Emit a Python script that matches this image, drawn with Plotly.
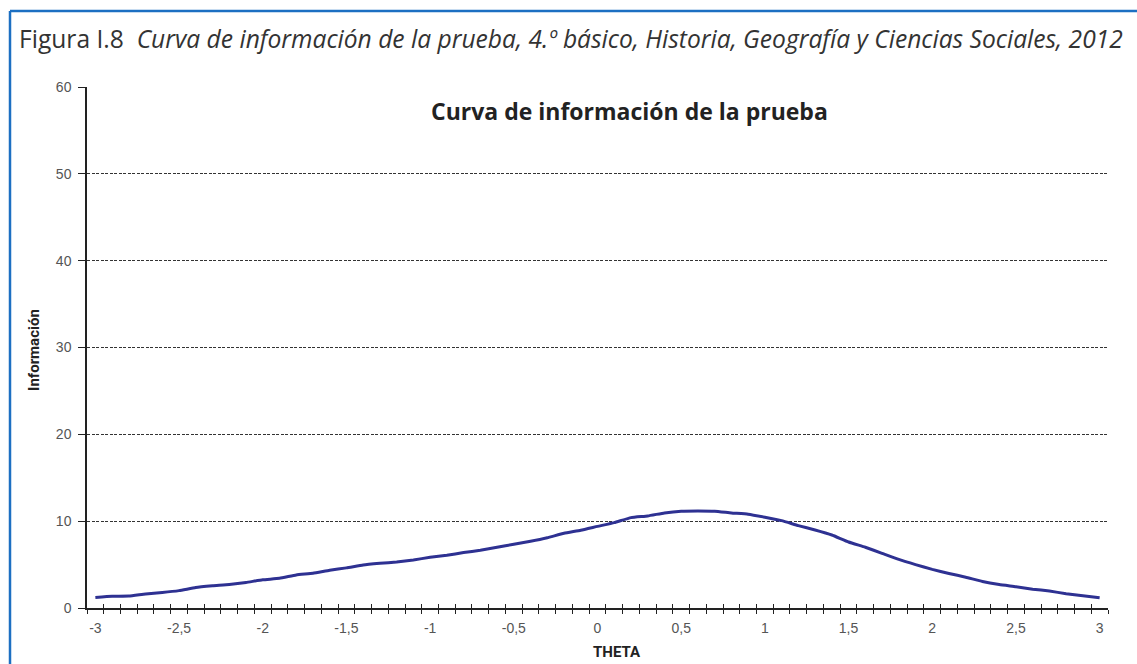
import plotly.graph_objects as go

# Test information function sampled every 0.1 on the ability scale
theta = [round(-3 + 0.1 * i, 1) for i in range(61)]
informacion = [
    1.20, 1.35, 1.38, 1.62, 1.78, 2.00, 2.36, 2.55, 2.70, 2.94,
    3.25, 3.42, 3.80, 4.00, 4.35, 4.62, 4.96, 5.15, 5.30, 5.53,
    5.84, 6.07, 6.38, 6.65, 7.00, 7.34, 7.69, 8.10, 8.60, 8.95,
    9.40, 9.83, 10.41, 10.60, 10.95, 11.15, 11.18, 11.15, 10.95, 10.80,
    10.45, 10.06, 9.49, 8.99, 8.41, 7.60, 7.00, 6.30, 5.60, 5.00,
    4.45, 3.98, 3.55, 3.05, 2.70, 2.45, 2.17, 1.95, 1.65, 1.42,
    1.18,
]

x_tickvals = [-3, -2.5, -2, -1.5, -1, -0.5, 0, 0.5, 1, 1.5, 2, 2.5, 3]
x_ticktext = ["-3", "-2,5", "-2", "-1,5", "-1", "-0,5", "0", "0,5", "1", "1,5", "2", "2,5", "3"]
y_tickvals = [0, 10, 20, 30, 40, 50, 60]

X_RANGE = [-3.05, 3.05]
AXIS_COLOR = "#222222"
LABEL_COLOR = "#555555"
FRAME_BLUE = "#1c6fc2"

# pixel helpers for placing page-level text relative to the plot area
PLOT_L, PLOT_W, PLOT_B, PLOT_H = 87, 1021, 608, 521


def px_x(px):
    return (px - PLOT_L) / PLOT_W


def px_y(py):
    return (PLOT_B - py) / PLOT_H


fig = go.Figure()
fig.add_trace(go.Scatter(
    x=theta, y=informacion, mode="lines",
    line=dict(color="#2e3192", width=3, shape="spline", smoothing=0.4),
    hoverinfo="x+y", showlegend=False,
))
# empty trace to bring up the overlaid axis that carries the inner tick halves
fig.add_trace(go.Scatter(x=[None], y=[None], xaxis="x2", showlegend=False, hoverinfo="skip"))

fig.update_layout(
    width=1137, height=664,
    margin=dict(l=87, r=29, t=87, b=56),
    paper_bgcolor="white", plot_bgcolor="white",
    font=dict(family="Liberation Sans, Arial, sans-serif", color=LABEL_COLOR),
    xaxis=dict(
        range=X_RANGE, tickmode="array", tickvals=x_tickvals, ticktext=x_ticktext,
        ticks="", showgrid=False, zeroline=False,
        showline=True, linecolor=AXIS_COLOR, linewidth=1.5,
        tickfont=dict(size=14, color=LABEL_COLOR), ticklabelstandoff=6,
        minor=dict(tick0=-3.05, dtick=0.1, ticks="outside", ticklen=4,
                   tickcolor=AXIS_COLOR, tickwidth=1, showgrid=False),
        fixedrange=True,
    ),
    xaxis2=dict(
        range=X_RANGE, overlaying="x", side="bottom", anchor="y",
        tickmode="linear", tick0=-3.05, dtick=0.1, ticks="inside", ticklen=4,
        tickcolor=AXIS_COLOR, tickwidth=1, showticklabels=False,
        showgrid=False, zeroline=False, showline=False, fixedrange=True,
    ),
    yaxis=dict(
        range=[0, 60], tickmode="array", tickvals=y_tickvals,
        ticks="outside", ticklen=7, tickcolor=AXIS_COLOR, tickwidth=1,
        showgrid=True, gridcolor="#333333", gridwidth=1, griddash="3px,1.5px",
        zeroline=False, showline=True, linecolor=AXIS_COLOR, linewidth=1.5,
        tickfont=dict(size=14, color=LABEL_COLOR), ticklabelstandoff=4,
        fixedrange=True,
    ),
    annotations=[
        dict(
            text="Figura I.8  <i>Curva de información de la prueba, 4.º básico, Historia, Geografía y Ciencias Sociales, 2012</i>",
            xref="paper", yref="paper", x=px_x(17), y=px_y(38),
            xanchor="left", yanchor="middle", showarrow=False,
            font=dict(family="Open Sans, sans-serif", size=24.6, color="#333"),
        ),
        dict(
            text="<b>Curva de información de la prueba</b>",
            xref="paper", yref="paper", x=px_x(629), y=px_y(111),
            xanchor="center", yanchor="middle", showarrow=False,
            font=dict(family="Open Sans, sans-serif", size=23, color="#222"),
        ),
        dict(
            text="<b>THETA</b>",
            xref="paper", yref="paper", x=px_x(617), y=px_y(652),
            xanchor="center", yanchor="middle", showarrow=False,
            font=dict(family="Roboto, sans-serif", size=15, color="#222"),
        ),
        dict(
            text="<b>Información</b>",
            xref="paper", yref="paper", x=px_x(34), y=px_y(350),
            xanchor="center", yanchor="middle", showarrow=False, textangle=-90,
            font=dict(family="Roboto, sans-serif", size=15, color="#222"),
        ),
    ],
    shapes=[
        # blue frame lines along the top and left of the figure box
        dict(type="line", xref="paper", yref="paper",
             x0=px_x(10), x1=px_x(1140), y0=px_y(11), y1=px_y(11),
             line=dict(color=FRAME_BLUE, width=2.5)),
        dict(type="line", xref="paper", yref="paper",
             x0=px_x(10), x1=px_x(10), y0=px_y(11), y1=px_y(670),
             line=dict(color=FRAME_BLUE, width=2.5)),
    ],
)

fig.write_html("out.html")
